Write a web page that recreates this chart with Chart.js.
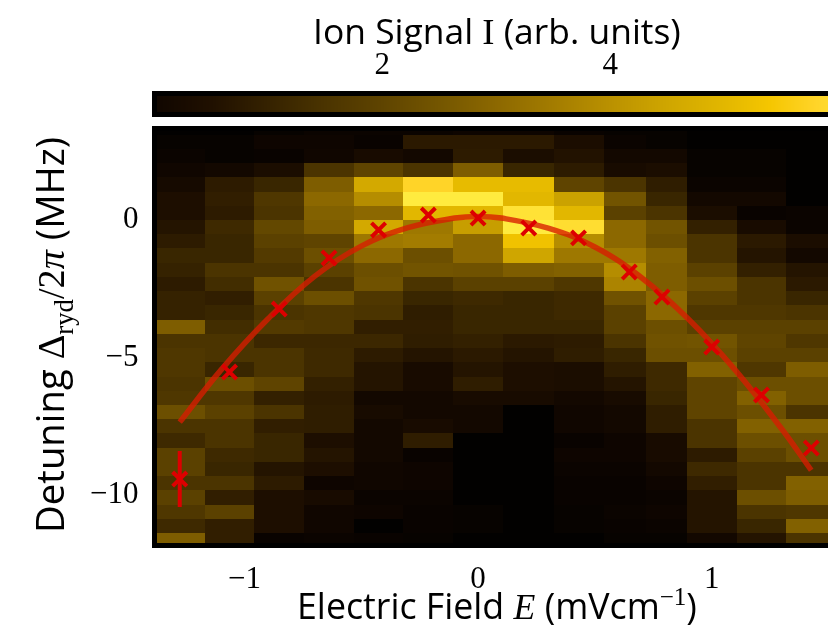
<!DOCTYPE html>
<html>
<head>
<meta charset="utf-8">
<script src="https://cdn.jsdelivr.net/npm/chart.js@4.4.1/dist/chart.umd.min.js"></script>
<style>
  html, body { margin: 0; padding: 0; background: #fff; overflow: hidden; width: 828px; height: 632px; }
  #wrap { position: relative; width: 850px; height: 632px; }
  canvas { position: absolute; left: 0; top: 0; }
</style>
</head>
<body>
<div id="wrap">
  <canvas id="main" width="850" height="632"></canvas>
  <canvas id="cbar" width="850" height="122"></canvas>
</div>
<script>
// electric field of each scan column (mV/cm)
const fieldE = [-1.277, -1.064, -0.851, -0.638, -0.426, -0.213, 0, 0.217, 0.430, 0.647, 0.787, 1.0, 1.213, 1.426];

// detuning of each row centre (MHz), top to bottom
const detuning = [3.364, 2.846, 2.329, 1.811, 1.294, 0.776, 0.259, -0.259, -0.776, -1.294,
  -1.811, -2.329, -2.846, -3.364, -3.881, -4.399, -4.916, -5.434, -5.951, -6.469,
  -6.986, -7.504, -8.021, -8.539, -9.056, -9.574, -10.091, -10.609, -11.126, -11.644];

// ion signal, one list per field column, rows top to bottom
const ionSignal = [
  [-0.3,-0.2,-0.1,0.0,0.2,0.4,0.4,0.6,0.8,1.1,1.0,0.8,1.0,1.0,2.7,1.5,1.6,1.6,1.5,1.6,2.3,1.5,1.2,1.9,1.9,1.5,1.9,1.6,1.2,2.7],
  [-0.3,-0.2,-0.2,0.1,0.8,0.9,0.8,1.2,1.1,1.1,1.5,1.3,0.9,1.1,1.3,1.5,1.5,1.1,2.3,1.6,1.9,1.5,1.5,1.2,1.1,1.5,0.9,1.9,0.9,0.9],
  [-0.2,-0.05,-0.15,0.35,1.1,1.6,1.5,2.1,1.9,1.7,1.5,2.4,1.9,1.5,1.7,1.15,1.5,1.5,2.0,0.95,1.5,0.9,1.1,1.1,0.6,0.8,0.4,0.4,0.4,-0.15],
  [-0.1,-0.05,0.0,1.5,2.7,3.0,2.8,2.7,2.0,2.3,1.9,1.5,2.3,1.6,1.6,1.15,1.2,1.2,0.95,0.8,0.85,0.85,0.4,0.6,0.4,-0.05,0.25,0.0,0.0,-0.1],
  [-0.1,-0.15,0.25,2.0,4.6,3.9,3.0,4.6,3.4,3.0,2.3,2.4,1.6,1.5,0.9,1.15,0.8,0.6,0.6,0.1,0.25,0.1,0.1,0.1,0.0,0.0,-0.1,-0.05,-0.3,-0.15],
  [-0.1,0.75,0.1,1.5,5.8,6.3,5.0,3.4,3.5,2.3,2.45,1.5,1.1,0.85,0.9,0.85,0.6,0.25,0.25,0.1,0.1,0.25,0.85,-0.15,-0.05,-0.05,-0.1,-0.15,-0.15,-0.2],
  [-0.05,0.75,0.8,2.7,5.1,6.3,5.0,4.3,3.0,3.0,2.4,1.9,1.2,1.1,1.1,0.95,0.75,0.6,0.85,0.25,0.1,0.1,-0.3,-0.3,-0.3,-0.3,-0.3,-0.2,-0.2,-0.3],
  [-0.05,0.75,0.35,1.1,5.1,5.0,6.1,6.3,5.3,4.5,2.7,1.9,1.1,1.1,1.1,0.75,0.6,0.4,0.4,0.25,-0.3,-0.3,-0.3,-0.3,-0.3,-0.3,-0.3,-0.3,-0.3,-0.3],
  [-0.15,0.35,0.55,0.8,2.0,4.4,5.0,6.0,3.9,3.4,2.8,1.6,1.2,1.2,1.1,0.8,0.85,0.35,0.35,0.1,0.0,0.0,-0.15,-0.05,-0.1,-0.15,-0.15,-0.2,-0.2,-0.3],
  [-0.2,-0.1,0.1,0.25,1.5,2.45,1.9,3.0,3.0,3.4,3.9,3.7,2.4,1.9,1.9,1.5,1.1,0.85,0.6,0.25,0.1,0.1,-0.05,-0.05,-0.1,-0.15,-0.15,-0.1,-0.15,-0.2],
  [-0.2,-0.2,0.1,0.35,0.85,1.1,1.5,2.45,2.3,2.8,2.7,2.7,3.0,3.0,2.3,2.4,2.3,1.2,1.2,1.1,0.85,0.85,0.25,0.25,0.1,-0.05,-0.1,-0.05,-0.1,-0.2],
  [-0.3,-0.3,-0.2,-0.2,-0.1,0.1,0.35,0.95,1.5,1.5,1.9,2.3,1.9,1.6,1.9,2.45,2.3,2.8,2.0,2.0,2.0,1.5,1.5,0.8,1.2,0.9,0.6,0.6,0.6,0.1],
  [-0.3,-0.3,-0.2,-0.2,-0.1,0.1,-0.15,0.25,0.75,0.6,0.95,1.5,1.5,1.6,1.9,2.0,1.9,1.6,2.3,2.8,2.3,2.8,2.3,1.9,1.5,1.5,2.3,1.5,1.1,0.6],
  [-0.3,-0.3,-0.3,-0.3,-0.3,-0.3,-0.1,-0.1,0.35,0.1,0.6,0.75,1.1,1.5,1.9,1.6,1.9,2.7,2.3,2.3,1.5,2.8,2.3,2.3,1.5,2.8,2.7,1.6,2.8,1.5]
];

// fitted resonance positions (crosses)
const peakDetuning = [-9.42, -5.53, -3.24, -1.38, -0.36, 0.18, 0.07, -0.29, -0.65, -1.89, -2.80, -4.62, -6.36, -8.29];

// typical error bar shown on first point
const errField = [-1.277];
const errLow = [-10.44];
const errHigh = [-8.40];

// quadratic Stark fit
const fitField = [-1.277, -1.1, -0.9, -0.7, -0.5, -0.3, -0.1, 0, 0.1, 0.3, 0.5, 0.7, 0.9, 1.1, 1.3, 1.426];
const fitDetuning = [-7.35, -5.45, -3.6, -2.05, -0.95, -0.28, 0.07, 0.13, 0.07, -0.3, -0.98, -2.1, -3.6, -5.45, -7.6, -9.1];

const xTicks = [-1, 0, 1];
const yTicks = [0, -5, -10];
const cbTicks = [2, 4];

const SANS = '"Open Sans", sans-serif';
const SERIF = '"Liberation Serif", serif';

// colour map: black -> brown -> gold -> yellow
const cmapStops = [
  [-0.35, [0, 0, 0]], [0, [16, 6, 0]], [0.5, [32, 16, 0]], [1.0, [53, 34, 0]],
  [1.5, [75, 52, 0]], [2.0, [95, 68, 0]], [2.5, [116, 86, 0]], [3.0, [140, 104, 0]],
  [3.5, [163, 124, 0]], [4.0, [186, 145, 0]], [4.5, [207, 166, 0]], [5.0, [226, 183, 0]],
  [5.4, [245, 198, 0]], [5.8, [255, 212, 40]], [6.5, [255, 244, 72]]
];

function cmap(v) {
  if (v <= cmapStops[0][0]) return 'rgb(0,0,0)';
  for (let i = 1; i < cmapStops.length; i++) {
    const [v1, c1] = cmapStops[i];
    if (v <= v1) {
      const [v0, c0] = cmapStops[i - 1];
      const t = (v - v0) / (v1 - v0);
      const c = c0.map((a, k) => Math.round(a + (c1[k] - a) * t));
      return `rgb(${c[0]},${c[1]},${c[2]})`;
    }
  }
  const c = cmapStops[cmapStops.length - 1][1];
  return `rgb(${c[0]},${c[1]},${c[2]})`;
}

function edges(c) {
  const e = [c[0] - (c[1] - c[0]) / 2];
  for (let i = 1; i < c.length; i++) e.push((c[i - 1] + c[i]) / 2);
  e.push(c[c.length - 1] + (c[c.length - 1] - c[c.length - 2]) / 2);
  return e;
}

// mixed-font label, scaled so its width matches `width`
function drawRich(ctx, segs, cx, cy, angle, width) {
  const font = (s, k) => `${s.style || ''} ${(s.size * k).toFixed(2)}px ${s.family}`;
  ctx.save();
  let total = 0;
  segs.forEach(s => { ctx.font = font(s, 1); total += ctx.measureText(s.text).width; });
  const k = width ? width / total : 1;
  ctx.translate(cx, cy);
  ctx.rotate(angle || 0);
  ctx.fillStyle = '#000';
  ctx.textAlign = 'left';
  ctx.textBaseline = 'alphabetic';
  let x = -total * k / 2;
  segs.forEach(s => {
    ctx.font = font(s, k);
    ctx.fillText(s.text, x, (s.dy || 0) * k);
    x += ctx.measureText(s.text).width;
  });
  ctx.restore();
}

const minus = v => v < 0 ? '\u2212' + Math.abs(v) : String(v);

const heatmap = {
  id: 'heatmap',
  beforeDatasetsDraw(chart) {
    const { ctx, chartArea: a, scales: { x, y } } = chart;
    const xe = edges(fieldE), ye = edges(detuning);
    ctx.save();
    ctx.beginPath();
    ctx.rect(a.left, a.top, a.right - a.left, a.bottom - a.top);
    ctx.clip();
    ionSignal.forEach((col, i) => {
      const x0 = Math.round(x.getPixelForValue(xe[i]));
      const x1 = Math.round(x.getPixelForValue(xe[i + 1]));
      col.forEach((v, j) => {
        const y0 = Math.round(y.getPixelForValue(ye[j]));
        const y1 = Math.round(y.getPixelForValue(ye[j + 1]));
        ctx.fillStyle = cmap(v);
        ctx.fillRect(x0, y0, x1 - x0, y1 - y0);
      });
    });
    ctx.restore();
    ctx.save();
    ctx.strokeStyle = '#000';
    ctx.lineWidth = 5;
    ctx.strokeRect(a.left, a.top, a.right - a.left, a.bottom - a.top);
    ctx.restore();
  },
  afterDraw(chart) {
    const ctx = chart.ctx;
    drawRich(ctx, [
      { text: 'Electric Field ', size: 30, family: SANS },
      { text: 'E', size: 30, family: SERIF, style: 'italic' },
      { text: ' (mVcm', size: 30, family: SANS },
      { text: '\u22121', size: 21, family: SERIF, dy: -12 },
      { text: ')', size: 30, family: SANS }
    ], 497, 619, 0, 400);
    drawRich(ctx, [
      { text: 'Detuning ', size: 30, family: SANS },
      { text: '\u0394', size: 30, family: SERIF },
      { text: 'ryd', size: 21, family: SERIF, dy: 7 },
      { text: '/2', size: 30, family: SERIF },
      { text: '\u03c0', size: 30, family: SERIF, style: 'italic' },
      { text: ' (MHz)', size: 30, family: SANS }
    ], 64, 335, -Math.PI / 2, 396);
  }
};

new Chart(document.getElementById('main'), {
  type: 'scatter',
  data: {
    datasets: [
      {
        label: 'peaks',
        data: fieldE.map((e, i) => ({ x: e, y: peakDetuning[i] })),
        pointStyle: 'crossRot',
        pointRadius: 10,
        pointBorderWidth: 4,
        borderColor: '#dd0000',
        backgroundColor: '#dd0000',
        order: 0
      },
      {
        label: 'error',
        type: 'line',
        data: [{ x: errField[0], y: errLow[0] }, { x: errField[0], y: errHigh[0] }],
        borderColor: '#dd0000',
        borderWidth: 4,
        pointRadius: 0,
        order: 1
      },
      {
        label: 'fit',
        type: 'line',
        data: fitField.map((e, i) => ({ x: e, y: fitDetuning[i] })),
        borderColor: 'rgba(215, 28, 0, 0.78)',
        borderWidth: 5.5,
        pointRadius: 0,
        tension: 0.4,
        order: 2
      }
    ]
  },
  options: {
    responsive: false,
    animation: false,
    devicePixelRatio: 1,
    events: [],
    layout: { padding: { top: 128.5, right: 12, left: 0, bottom: 0 } },
    plugins: { legend: { display: false }, tooltip: { enabled: false } },
    scales: {
      x: {
        type: 'linear', min: -1.385, max: 1.532,
        grid: { display: false, drawTicks: false },
        border: { display: false },
        afterBuildTicks: s => { s.ticks = xTicks.map(v => ({ value: v })); },
        afterFit: s => { s.height = 86.5; },
        ticks: { padding: 16, color: '#000', font: { family: SERIF, size: 31 }, callback: minus, maxRotation: 0 }
      },
      y: {
        type: 'linear', min: -11.836, max: 3.327,
        grid: { display: false, drawTicks: false },
        border: { display: false },
        afterBuildTicks: s => { s.ticks = yTicks.map(v => ({ value: v })); },
        afterFit: s => { s.width = 154.5; },
        ticks: { padding: 16, color: '#000', font: { family: SERIF, size: 31 }, callback: minus }
      }
    }
  },
  plugins: [heatmap]
});

const colorbar = {
  id: 'colorbar',
  beforeDatasetsDraw(chart) {
    const { ctx, chartArea: a, scales: { x } } = chart;
    ctx.save();
    for (let px = Math.floor(a.left); px < a.right; px++) {
      ctx.fillStyle = cmap(x.getValueForPixel(px + 0.5));
      ctx.fillRect(px, a.top, 1, a.bottom - a.top);
    }
    ctx.strokeStyle = '#000';
    ctx.lineWidth = 5;
    ctx.strokeRect(a.left, a.top, a.right - a.left, a.bottom - a.top);
    ctx.restore();
  },
  afterDraw(chart) {
    drawRich(chart.ctx, [
      { text: 'Ion Signal ', size: 30, family: SANS },
      { text: 'I', size: 31, family: SERIF },
      { text: ' (arb. units)', size: 30, family: SANS }
    ], 497, 44, 0, 368);
  }
};

new Chart(document.getElementById('cbar'), {
  type: 'scatter',
  data: { datasets: [] },
  options: {
    responsive: false,
    animation: false,
    devicePixelRatio: 1,
    events: [],
    layout: { padding: { top: 0, right: 12, left: 154.5, bottom: 7.5 } },
    plugins: { legend: { display: false }, tooltip: { enabled: false } },
    scales: {
      x: {
        type: 'linear', position: 'top', min: 0, max: 6,
        grid: { display: false, drawTicks: false },
        border: { display: false },
        afterBuildTicks: s => { s.ticks = cbTicks.map(v => ({ value: v })); },
        afterFit: s => { s.height = 93.5; },
        ticks: { padding: 9, color: '#000', font: { family: SERIF, size: 31 }, maxRotation: 0 }
      },
      y: { display: false, min: 0, max: 1 }
    }
  },
  plugins: [colorbar]
});
</script>
</body>
</html>
